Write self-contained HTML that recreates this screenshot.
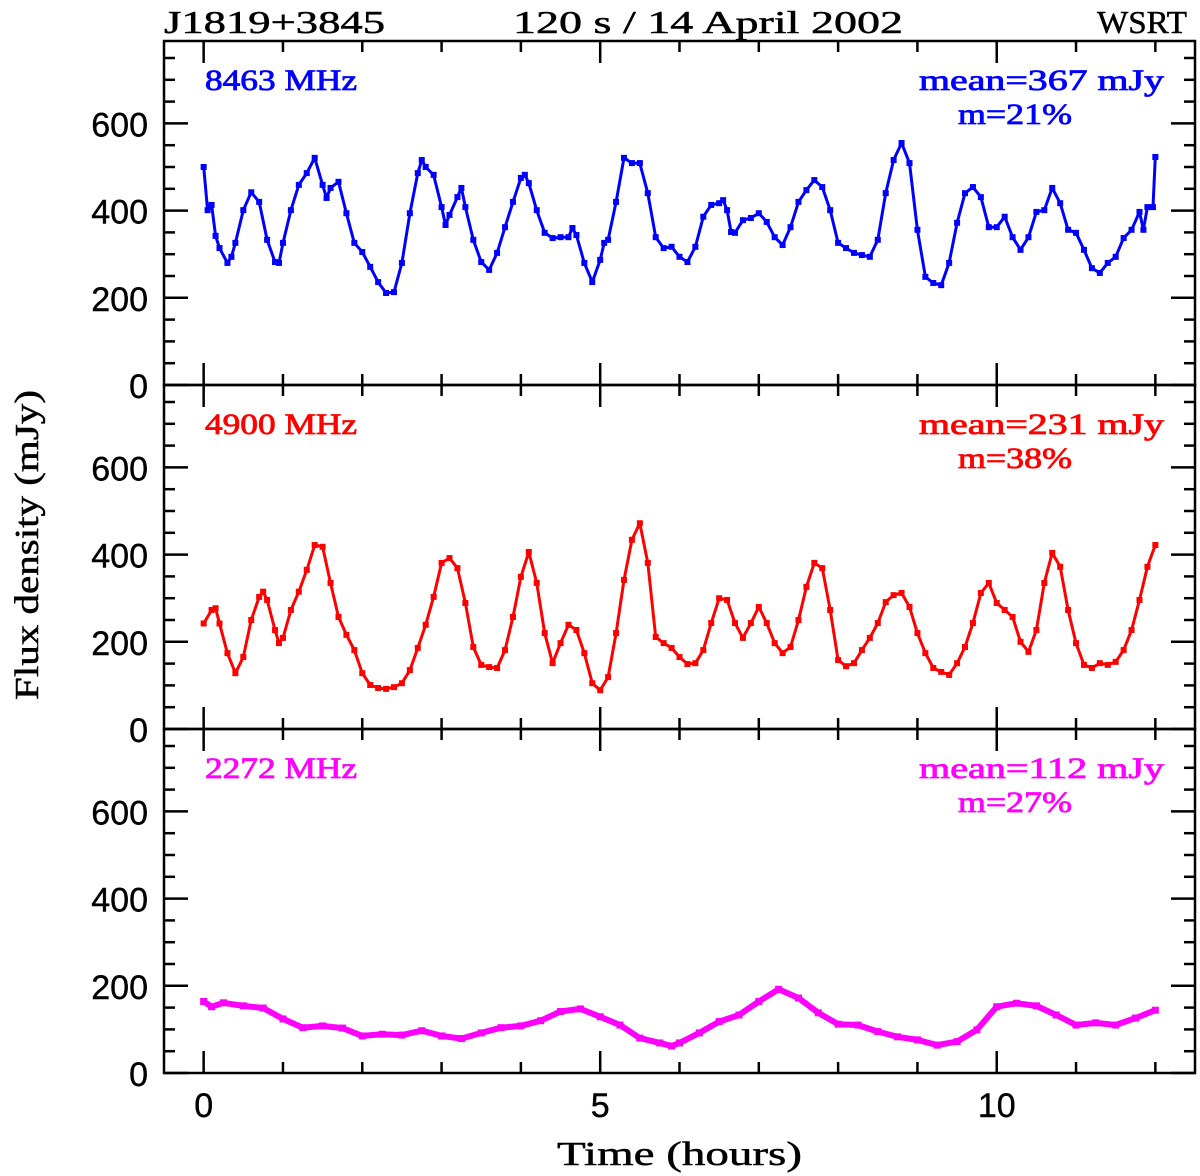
<!DOCTYPE html>
<html><head><meta charset="utf-8"><style>
html,body{margin:0;padding:0;background:#fff;}
svg{display:block;}
</style></head><body>
<svg id="chart" width="1200" height="1176" xmlns="http://www.w3.org/2000/svg">
<g id="frames"></g>
<g id="series"></g>
<g id="labels" font-family="Liberation Serif, serif" stroke="#000" stroke-width="0.5">
  <text x="164" y="33" font-size="32" textLength="221" lengthAdjust="spacingAndGlyphs">J1819+3845</text>
  <text x="513" y="33" font-size="32" textLength="390" lengthAdjust="spacingAndGlyphs">120 s / 14 April 2002</text>
  <text x="1097" y="33" font-size="32" textLength="90" lengthAdjust="spacingAndGlyphs">WSRT</text>
  <text x="557" y="1165" font-size="34" textLength="245" lengthAdjust="spacingAndGlyphs">Time (hours)</text>
  <text transform="translate(38,700) rotate(-90)" font-size="34" textLength="310" lengthAdjust="spacingAndGlyphs">Flux density (mJy)</text>
</g>
</svg>
<script>
// ---- data ----
const xTickLabels = ["0","5","10"];
const yTickLabels = ["0","200","400","600"];
const freqLabels = ["8463 MHz","4900 MHz","2272 MHz"];
const meanLabels = ["mean=367 mJy","mean=231 mJy","mean=112 mJy"];
const modLabels = ["m=21%","m=38%","m=27%"];
const colors = ["#0000ff","#ff0000","#ff00ff"];

const tBlue = [0,0.05,0.1,0.15,0.2,0.3,0.35,0.4,0.5,0.6,0.7,0.8,0.9,0.95,1.0,1.1,1.2,1.3,1.4,1.5,1.55,1.6,1.7,1.8,1.9,2.0,2.1,2.2,2.3,2.4,2.5,2.6,2.7,2.75,2.8,2.9,3.0,3.05,3.1,3.2,3.25,3.3,3.4,3.5,3.6,3.7,3.8,3.9,4.0,4.05,4.1,4.2,4.3,4.4,4.5,4.6,4.65,4.7,4.8,4.9,5.0,5.05,5.1,5.2,5.3,5.4,5.5,5.6,5.7,5.8,5.9,6.0,6.1,6.2,6.3,6.4,6.5,6.55,6.6,6.65,6.7,6.8,6.9,7.0,7.1,7.2,7.3,7.4,7.5,7.6,7.7,7.8,7.9,8.0,8.1,8.2,8.3,8.4,8.5,8.6,8.7,8.8,8.9,9.0,9.1,9.2,9.3,9.4,9.5,9.6,9.7,9.8,9.9,10.0,10.1,10.2,10.3,10.4,10.5,10.6,10.7,10.8,10.9,11.0,11.1,11.2,11.3,11.4,11.5,11.6,11.7,11.8,11.85,11.9,11.97,12.0];
const fBlue = [500,401,413,342,314,280,294,326,401,442,420,333,282,280,326,401,459,486,521,459,429,452,466,394,326,305,271,236,211,213,280,394,486,516,500,482,408,367,390,431,452,408,333,282,264,303,362,420,475,482,463,401,349,337,339,339,360,344,280,236,287,326,333,420,521,509,509,440,339,314,317,294,282,317,386,413,417,424,401,351,349,378,383,394,374,339,321,362,420,447,470,454,401,326,314,303,298,294,333,440,516,555,509,356,248,234,229,280,372,440,454,431,362,362,386,339,310,339,397,401,452,417,356,349,310,268,257,280,294,337,356,397,356,408,408,523];

const tRed = [0,0.1,0.15,0.2,0.3,0.4,0.5,0.6,0.7,0.75,0.8,0.9,0.95,1.0,1.1,1.2,1.3,1.4,1.5,1.6,1.7,1.8,1.9,2.0,2.1,2.2,2.3,2.4,2.5,2.6,2.7,2.8,2.9,3.0,3.1,3.2,3.3,3.4,3.5,3.6,3.7,3.8,3.9,4.0,4.1,4.2,4.3,4.4,4.5,4.6,4.7,4.8,4.9,5.0,5.1,5.2,5.3,5.4,5.5,5.6,5.7,5.8,5.9,6.0,6.1,6.2,6.3,6.4,6.5,6.6,6.7,6.8,6.9,7.0,7.1,7.2,7.3,7.4,7.5,7.6,7.7,7.8,7.9,8.0,8.1,8.2,8.3,8.4,8.5,8.6,8.7,8.8,8.9,9.0,9.1,9.2,9.3,9.4,9.5,9.6,9.7,9.8,9.9,10.0,10.1,10.2,10.3,10.4,10.5,10.6,10.7,10.8,10.9,11.0,11.1,11.2,11.3,11.4,11.5,11.6,11.7,11.8,11.9,12.0];
const fRed = [242,273,277,242,174,128,165,250,303,315,296,227,197,209,273,315,365,422,418,335,257,216,181,128,101,94,92,96,105,135,186,239,303,381,392,369,289,188,147,142,140,181,257,349,406,335,220,151,197,239,227,174,105,89,119,220,342,434,472,381,211,197,186,165,149,151,181,243,300,296,243,209,243,280,243,197,174,188,250,326,381,369,273,158,144,151,181,209,243,291,307,312,280,220,174,140,131,124,151,188,243,312,335,289,273,257,200,177,227,335,404,372,273,197,147,140,151,147,154,181,227,296,372,422];

const tMag = [0,0.1,0.25,0.5,0.75,1.0,1.25,1.5,1.75,2.0,2.25,2.5,2.75,3.0,3.25,3.5,3.75,4.0,4.25,4.5,4.75,5.0,5.25,5.5,5.75,5.9,6.0,6.25,6.5,6.75,7.0,7.25,7.5,7.75,8.0,8.25,8.5,8.75,9.0,9.25,9.5,9.75,10.0,10.25,10.5,10.75,11.0,11.25,11.5,11.75,12.0];
const fMag = [164,152,161,154,149,124,104,108,103,85,89,87,97,85,79,92,104,108,120,141,147,129,110,80,69,62,69,92,118,133,164,192,172,138,112,110,95,83,76,64,72,99,152,160,154,133,110,115,110,126,144];

// ---- layout ----
const NS = "http://www.w3.org/2000/svg";
const L = 164, R = 1195, XMIN = -0.5, XMAX = 12.5;
const panelTop = [41, 385, 729], panelBot = [385, 729, 1073];
const YMAX = 789;
function xs(t){ return L + (t - XMIN) / (XMAX - XMIN) * (R - L); }
function ys(p, v){ return panelBot[p] - v / YMAX * (panelBot[p] - panelTop[p]); }
function mk(tag, attrs, parent){ const e = document.createElementNS(NS, tag); for (const k in attrs) e.setAttribute(k, attrs[k]); parent.appendChild(e); return e; }

const frames = document.getElementById('frames');
const labels = document.getElementById('labels');
const seriesG = document.getElementById('series');

for (let p = 0; p < 3; p++){
  const r = mk('rect', {x:L, y:panelTop[p], width:R-L, height:panelBot[p]-panelTop[p], fill:'none', stroke:'#000', 'stroke-width':2.5}, frames);
  
  
  for (let v = 0; v < YMAX; v += 50){
    const major = v % 200 === 0;
    const len = major ? 24 : 11;
    const y = ys(p, v);
    mk('line', {x1:L, x2:L+len, y1:y, y2:y, stroke:'#000', 'stroke-width':2.5}, frames);
    mk('line', {x1:R, x2:R-len, y1:y, y2:y, stroke:'#000', 'stroke-width':2.5}, frames);
  }
  for (let h = 0; h <= 12; h++){
    const major = h % 5 === 0;
    const len = major ? 22 : 11;
    const x = xs(h);
    mk('line', {x1:x, x2:x, y1:panelTop[p], y2:panelTop[p]+len, stroke:'#000', 'stroke-width':2.5}, frames);
    mk('line', {x1:x, x2:x, y1:panelBot[p], y2:panelBot[p]-len, stroke:'#000', 'stroke-width':2.5}, frames);
  }
  yTickLabels.forEach((s) => {
    const tl = mk('text', {x:148, y:ys(p, +s)+13, 'font-size':34, 'text-anchor':'end', 'font-family':'Liberation Sans, sans-serif', 'stroke-width':0.4}, labels);
    tl.textContent = s;
    
    
  });
  const base = panelTop[p];
  const f = mk('text', {x:205, y:base+49, 'font-size':30, fill:colors[p], stroke:colors[p], 'stroke-width':0.8, textLength:152, lengthAdjust:'spacingAndGlyphs'}, labels);
  f.textContent = freqLabels[p];
  
  
  const m = mk('text', {x:919, y:base+49, 'font-size':30, fill:colors[p], stroke:colors[p], 'stroke-width':0.8, textLength:245, lengthAdjust:'spacingAndGlyphs'}, labels);
  m.textContent = meanLabels[p];
  
  
  const mm = mk('text', {x:958, y:base+83, 'font-size':30, fill:colors[p], stroke:colors[p], 'stroke-width':0.8, textLength:114, lengthAdjust:'spacingAndGlyphs'}, labels);
  mm.textContent = modLabels[p];
  
  
}
xTickLabels.forEach((s) => {
  const tl = mk('text', {x:xs(+s), y:1117, 'font-size':34, 'text-anchor':'middle', 'font-family':'Liberation Sans, sans-serif', 'stroke-width':0.4}, labels);
  tl.textContent = s;
  
  
});

function drawSeries(p, ts, fs, name, lw, ms){
  const g = mk('g', {}, seriesG);
  
  
  const pts = ts.map((t, i) => xs(t).toFixed(1) + ',' + ys(p, fs[i]).toFixed(1)).join(' ');
  const pl = mk('polyline', {points:pts, fill:'none', stroke:colors[p], 'stroke-width':lw, 'stroke-linejoin':'round'}, g);
  
  
  ts.forEach((t, i) => {
    const r = mk('rect', {x:xs(t)-ms/2, y:ys(p, fs[i])-ms/2, width:ms, height:ms, fill:colors[p]}, g);
    
    
  });
}
drawSeries(0, tBlue, fBlue, 'series-8463mhz', 3, 6);
drawSeries(1, tRed, fRed, 'series-4900mhz', 3, 6);
drawSeries(2, tMag, fMag, 'series-2272mhz', 6, 7);
</script>
</body></html>
